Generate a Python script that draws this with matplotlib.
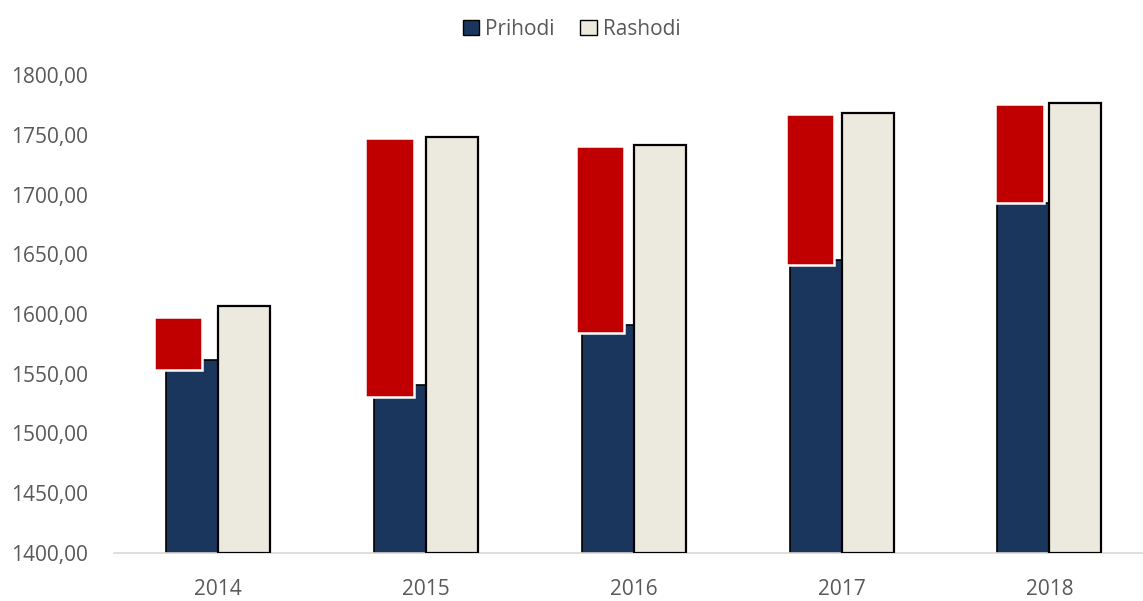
import matplotlib
matplotlib.use("Agg")
import matplotlib.pyplot as plt
import numpy as np
from matplotlib.patches import Patch
from matplotlib.ticker import FuncFormatter

years = ["2014", "2015", "2016", "2017", "2018"]
prihodi = [1561.5, 1540.5, 1591.0, 1645.5, 1692.5]
rashodi = [1606.5, 1748.0, 1741.5, 1768.0, 1776.5]
# red deficit boxes (bottom, top) as placed over the Prihodi bars
deficit_bottom = [1553.0, 1530.5, 1584.5, 1641.0, 1692.5]
deficit_top = [1597.5, 1747.5, 1740.5, 1767.5, 1776.0]

navy = "#1A365D"
cream = "#ECEADF"
red = "#C00000"
grey = "#595959"

plt.rcParams["font.family"] = ["Open Sans", "DejaVu Sans"]

fig = plt.figure(figsize=(11.43, 6.01), dpi=100)
ax = fig.add_axes([114 / 1143, 48 / 601, 1 - 114 / 1143, (553 - 75) / 601])

x = np.arange(len(years))
w = 0.25
base = 1400
# the hand-placed red boxes sit slightly left of the Prihodi bars
shift = np.array([0.067, 0.05, 0.038, 0.026, 0.019])

ax.bar(x - w / 2, np.array(prihodi) - base, w, bottom=base, color=navy,
       edgecolor="black", linewidth=1.2, zorder=2)
ax.bar(x - w / 2 - shift, np.array(deficit_top) - np.array(deficit_bottom), 0.233,
       bottom=deficit_bottom, color=red, edgecolor="white", linewidth=1.8, zorder=3)
ax.bar(x + w / 2, np.array(rashodi) - base, w, bottom=base, color=cream,
       edgecolor="black", linewidth=1.6, zorder=4)

ax.set_xlim(-0.5, 4.45)
ax.set_ylim(1400, 1800)
ax.set_yticks(np.arange(1400, 1801, 50))
ax.yaxis.set_major_formatter(FuncFormatter(lambda v, p: f"{v:.2f}".replace(".", ",")))
ax.set_xticks(x)
ax.set_xticklabels(years)
ax.tick_params(axis="both", length=0, labelsize=15, labelcolor=grey)
ax.tick_params(axis="y", pad=19)
ax.tick_params(axis="x", pad=19)

for side in ["top", "right", "left"]:
    ax.spines[side].set_visible(False)
ax.spines["bottom"].set_color("#D9D9D9")
ax.spines["bottom"].set_linewidth(1.2)
ax.patch.set_alpha(0)

handles = [
    Patch(facecolor=navy, edgecolor="black", label="Prihodi"),
    Patch(facecolor=cream, edgecolor="black", label="Rashodi"),
]
leg = fig.legend(handles=handles, loc="upper center", bbox_to_anchor=(0.5, 1.0),
                 ncol=2, frameon=False, fontsize=15, handlelength=0.8,
                 handleheight=0.8, handletextpad=0.3, columnspacing=1.2)
for t in leg.get_texts():
    t.set_color(grey)

fig.savefig("out.png", dpi=100)
